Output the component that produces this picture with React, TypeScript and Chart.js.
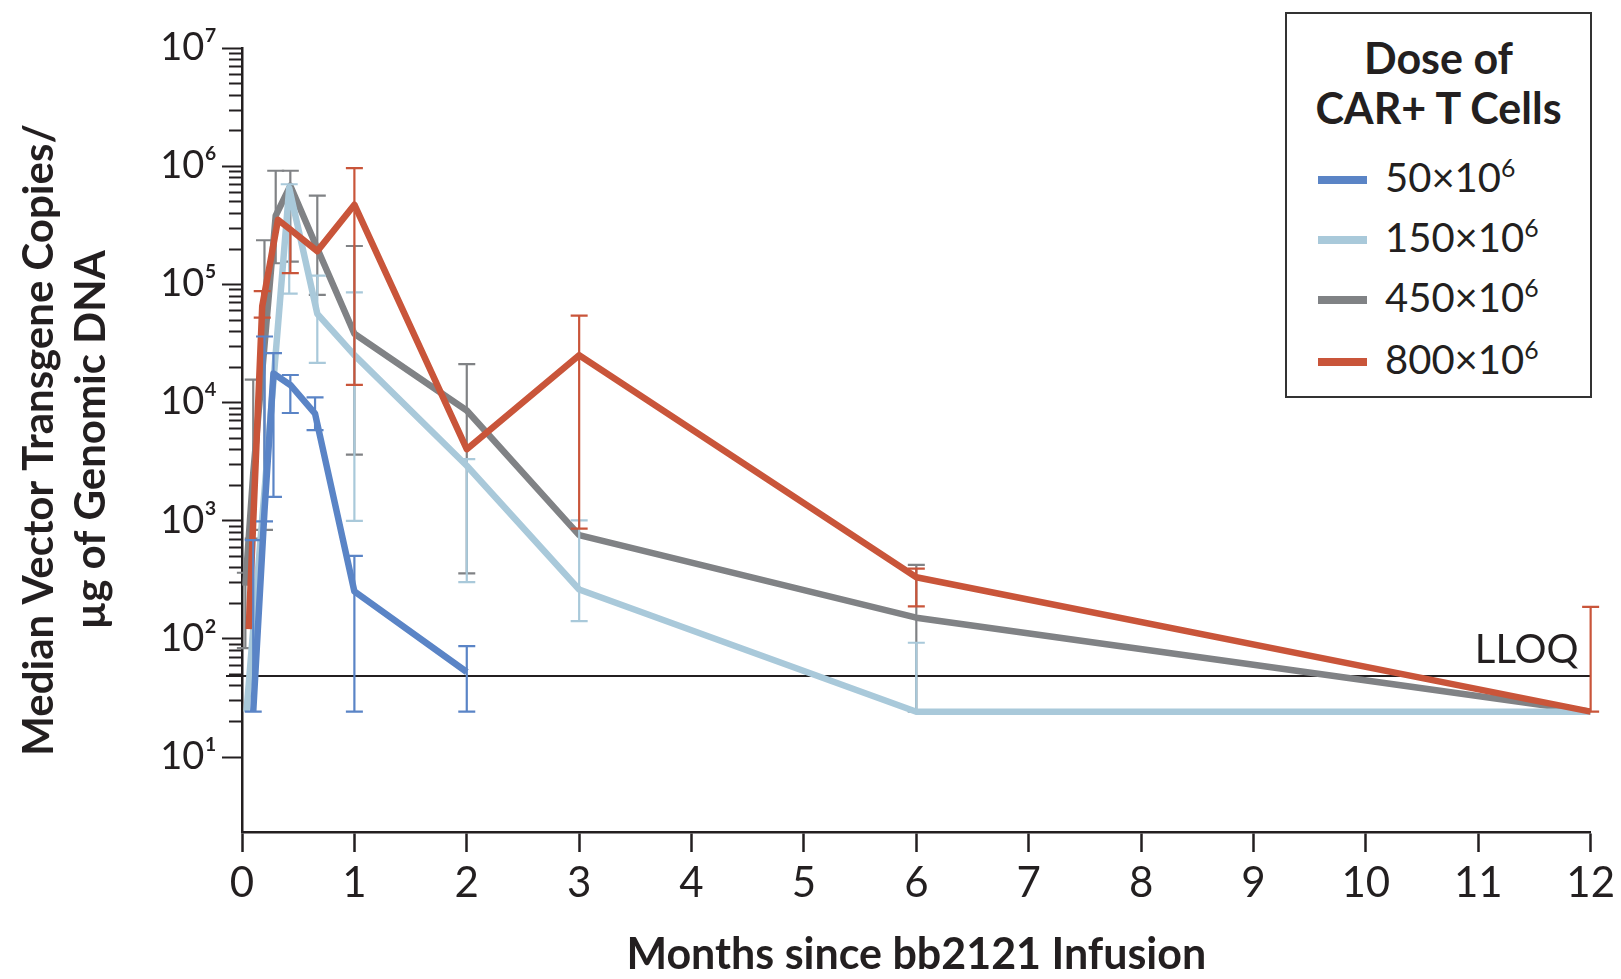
import React, { useEffect, useRef } from 'react';
import { Chart, registerables } from 'chart.js';

Chart.register(...registerables);

// ---------- data ----------
const doseValues = [50, 150, 450, 800];
const seriesColors = ['#5a84c6', '#a9c9da', '#808285', '#c9553a'];
const drawOrder = [0, 2, 3, 1]; // lower = drawn on top

const blueMonths = [0.1, 0.2, 0.28, 0.43, 0.65, 1, 2];
const blueMedian = [24, 1200, 17500, 14000, 8000, 250, 52];
const blueLow = [24, 980, 1580, 8100, 5800, 24, 24];
const blueHigh = [680, 36000, 26000, 17000, 11000, 500, 86];

const lightMonths = [0.04, 0.42, 0.67, 1, 2, 3, 6, 12];
const lightMedian = [24, 650000, 56000, 25000, 2900, 260, 24, 24];
const lightLow = [null, 83000, 21500, 990, 300, 140, 24, null];
const lightHigh = [null, 700000, 118000, 85000, 3300, 1000, 92, null];

const grayMonths = [0.03, 0.1, 0.2, 0.3, 0.43, 0.67, 1, 2, 3, 6, 12];
const grayMedian = [280, 2500, 30000, 380000, 680000, 200000, 38000, 8500, 750, 150, 24];
const grayLow = [83, 700, 830, 150000, 155000, 81000, 3600, 355, null, 24, null];
const grayHigh = [360, 15500, 235000, 910000, 910000, 560000, 210000, 21000, null, 420, null];

const redMonths = [0.06, 0.18, 0.32, 0.43, 0.67, 1, 2, 3, 6, 12];
const redMedian = [120, 65000, 350000, 290000, 190000, 470000, 4000, 25000, 330, 24];
const redLow = [null, 52000, null, 124000, null, 14000, null, 850, 187, 24];
const redHigh = [null, 87000, null, null, null, 960000, null, 54000, 390, 185];

const LLOQ = 48;

const xTickValues = [0, 1, 2, 3, 4, 5, 6, 7, 8, 9, 10, 11, 12];
const yTickValues = [10, 100, 1000, 10000, 100000, 1000000, 10000000];
const yTickLabels = ['10¹', '10²', '10³', '10⁴', '10⁵', '10⁶', '10⁷'];

const xTitle = 'Months since bb2121 Infusion';
const yTitle = ['Median Vector Transgene Copies/', '\u00B5g of Genomic DNA'];
const legendTitle = ['Dose of', 'CAR+ T Cells'];

const TEXT = '#231f20';
const FONT = 'Lato';

type Num = number | null;
const seriesDefs: [number[], number[], Num[], Num[]][] = [
  [blueMonths, blueMedian, blueLow, blueHigh],
  [lightMonths, lightMedian, lightLow, lightHigh],
  [grayMonths, grayMedian, grayLow, grayHigh],
  [redMonths, redMedian, redLow, redHigh],
];

// ---------- plugins ----------
const errorBarPlugin = {
  id: 'errorBars',
  beforeDatasetDraw(chart: any, args: any) {
    const ds = chart.data.datasets[args.index];
    const eb = ds.errorBars as { x: number; y: number; lo: Num; hi: Num }[];
    if (!eb) return;
    const { ctx, scales } = chart;
    const xs = scales.x, ys = scales.y;
    const cap = 8.5;
    ctx.save();
    ctx.strokeStyle = ds.borderColor;
    ctx.lineWidth = 2.2;
    eb.forEach((p) => {
      if (p.lo == null && p.hi == null) return;
      const px = xs.getPixelForValue(p.x);
      const yTop = ys.getPixelForValue(p.hi != null ? p.hi : p.y);
      const yBot = ys.getPixelForValue(p.lo != null ? p.lo : p.y);
      ctx.beginPath();
      ctx.moveTo(px, yTop);
      ctx.lineTo(px, yBot);
      if (p.hi != null) {
        ctx.moveTo(px - cap, yTop);
        ctx.lineTo(px + cap, yTop);
      }
      if (p.lo != null) {
        ctx.moveTo(px - cap, yBot);
        ctx.lineTo(px + cap, yBot);
      }
      ctx.stroke();
    });
    ctx.restore();
  },
};

const axisDecorPlugin = {
  id: 'axisDecor',
  beforeDatasetsDraw(chart: any) {
    const { ctx, chartArea, scales } = chart;
    const ys = scales.y;
    ctx.save();
    ctx.strokeStyle = TEXT;
    ctx.lineWidth = 2;
    ys.ticks.forEach((t: any) => {
      const py = Math.round(ys.getPixelForValue(t.value)) + 0.5;
      const len = yTickValues.indexOf(t.value) >= 0 ? 20 : 13;
      ctx.beginPath();
      ctx.moveTo(chartArea.left - len, py);
      ctx.lineTo(chartArea.left, py);
      ctx.stroke();
    });
    const ly = ys.getPixelForValue(LLOQ);
    ctx.lineWidth = 2;
    ctx.beginPath();
    ctx.moveTo(chartArea.left - 16, ly);
    ctx.lineTo(chartArea.right, ly);
    ctx.stroke();
    ctx.font = `40px ${FONT}`;
    ctx.fillStyle = TEXT;
    ctx.textAlign = 'right';
    ctx.textBaseline = 'alphabetic';
    ctx.fillText('LLOQ', chartArea.right - 12, ly - 13);
    ctx.restore();
  },
};

export default function App() {
  const canvasRef = useRef<HTMLCanvasElement | null>(null);

  useEffect(() => {
    const canvas = canvasRef.current;
    if (!canvas) return;
    const datasets = seriesDefs.map(([m, med, lo, hi], i) => ({
      label: `${doseValues[i]}×10⁶`,
      data: m.map((x, j) => ({ x, y: med[j] })),
      borderColor: seriesColors[i],
      backgroundColor: seriesColors[i],
      borderWidth: 6.5,
      pointRadius: 0,
      tension: 0,
      fill: false,
      order: drawOrder[i],
      borderJoinStyle: 'round',
      errorBars: m.map((x, j) => ({ x, y: med[j], lo: lo[j], hi: hi[j] })),
    }));

    const chart = new Chart(canvas, {
      type: 'line',
      data: { datasets: datasets as any },
      plugins: [errorBarPlugin, axisDecorPlugin],
      options: {
        responsive: false,
        animation: false,
        devicePixelRatio: 1,
        layout: { padding: { top: 43, right: 29, left: 0, bottom: 0 } },
        plugins: { legend: { display: false }, tooltip: { enabled: false } },
        scales: {
          x: {
            type: 'linear',
            min: 0,
            max: 12,
            afterBuildTicks: (scale: any) => {
              scale.ticks = xTickValues.map((v) => ({ value: v }));
            },
            afterFit: (scale: any) => {
              scale.height = 147;
            },
            ticks: {
              font: { family: FONT, size: 42 },
              color: TEXT,
              padding: 6,
              maxRotation: 0,
              autoSkip: false,
              callback: (v: any) => String(v),
            },
            grid: {
              display: true,
              drawOnChartArea: false,
              drawTicks: true,
              tickLength: 20,
              tickWidth: 2.5,
              tickColor: TEXT,
            },
            border: { display: true, color: TEXT, width: 2.5 },
            title: {
              display: true,
              text: xTitle,
              color: TEXT,
              font: { family: FONT, size: 43, weight: 'bold', lineHeight: 1 },
              padding: { top: 0, bottom: 2 },
            },
          },
          y: {
            type: 'logarithmic',
            min: 2.3,
            max: 1e7,
            afterBuildTicks: (scale: any) => {
              const t: any[] = [];
              for (let e = 1; e <= 6; e++) {
                for (let k = 1; k <= 9; k++) t.push({ value: k * Math.pow(10, e) });
              }
              t.push({ value: 1e7 });
              scale.ticks = t;
            },
            afterFit: (scale: any) => {
              scale.width = 242;
            },
            ticks: {
              font: { family: FONT, size: 38 },
              color: TEXT,
              padding: 25,
              autoSkip: false,
              callback: (v: any) => {
                const i = yTickValues.indexOf(Number(v));
                return i >= 0 ? yTickLabels[i] : '';
              },
            },
            grid: { display: true, drawOnChartArea: false, drawTicks: false },
            border: { display: true, color: TEXT, width: 2.5 },
            title: {
              display: true,
              text: yTitle,
              color: TEXT,
              font: { family: FONT, size: 42, weight: 'bold', lineHeight: 1.25 },
              padding: { top: 13, bottom: 0 },
            },
          },
        },
      } as any,
    });
    return () => chart.destroy();
  }, []);

  return (
    <div
      style={{
        position: 'fixed',
        left: 0,
        top: 0,
        width: 1621,
        height: 979,
        background: '#fff',
        overflow: 'hidden',
      }}
    >
      <canvas ref={canvasRef} width={1621} height={979} style={{ display: 'block' }} />
      <div
        style={{
          position: 'absolute',
          left: 1285,
          top: 12,
          width: 307,
          height: 386,
          border: '2px solid #333',
          boxSizing: 'border-box',
          background: '#fff',
          fontFamily: FONT,
          color: TEXT,
        }}
      >
        <div
          style={{
            position: 'absolute',
            top: 19,
            left: 0,
            right: 0,
            textAlign: 'center',
            fontWeight: 700,
            fontSize: 43,
            lineHeight: '50px',
            whiteSpace: 'nowrap',
          }}
        >
          {legendTitle.map((l) => (
            <div key={l}>{l}</div>
          ))}
        </div>
        {doseValues.map((d, i) => (
          <div
            key={d}
            style={{
              position: 'absolute',
              left: 31,
              top: [166, 226, 286, 348][i] - 25,
              height: 50,
              display: 'flex',
              alignItems: 'center',
              whiteSpace: 'nowrap',
            }}
          >
            <div style={{ width: 49, height: 8, background: seriesColors[i] }} />
            <div style={{ marginLeft: 18, fontSize: 40, lineHeight: '50px' }}>
              {d}×10
              <span style={{ fontSize: '0.62em', position: 'relative', top: '-0.62em' }}>6</span>
            </div>
          </div>
        ))}
      </div>
    </div>
  );
}
